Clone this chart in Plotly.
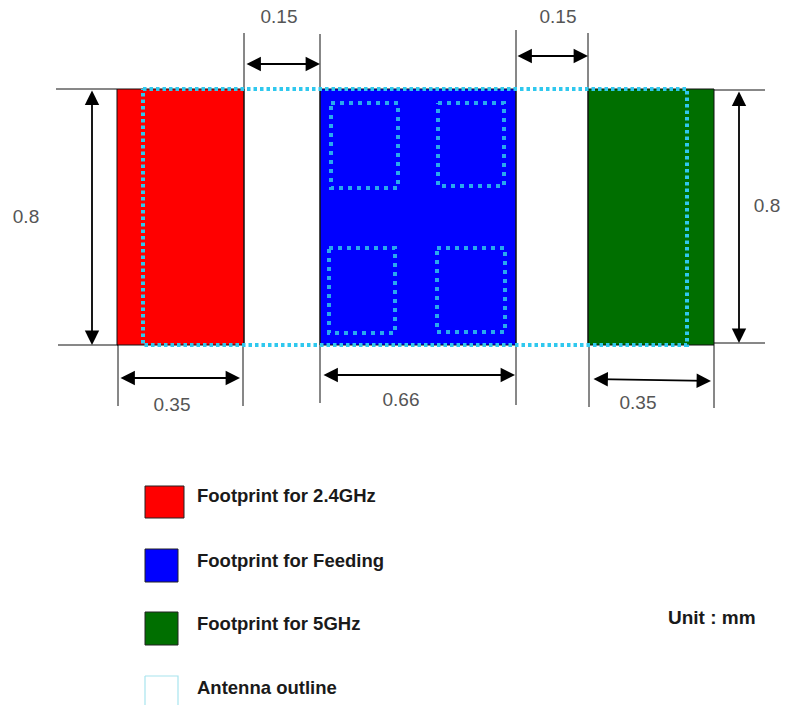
import plotly.graph_objects as go

# Footprint blocks: name, x edges, y edges
block_names = ["Footprint for 2.4GHz", "Footprint for Feeding", "Footprint for 5GHz"]
block_left = [117, 320, 588]
block_right = [244, 516, 714]
block_top = 89
block_bottom = 345
block_colors = ["#ff0000", "#0000ff", "#006f00"]

# Antenna outline and inner pads
outline_x = [143, 687]
outline_y = [89, 345]
pad_left = [331, 438, 329, 437]
pad_right = [398, 504, 395, 505]
pad_top = [103, 103, 248, 248]
pad_bottom = [188, 186, 333, 332]

# Extension lines (x0, y0, x1, y1)
ext_lines = [
    (56, 89, 117, 89), (58, 345, 118, 345),
    (714, 90, 765, 90), (714, 343, 765, 343),
    (244, 33, 244, 345), (320, 34, 320, 345),
    (516, 30, 516, 345), (588, 33, 588, 345),
    (118, 345, 118, 406), (243, 345, 243, 406),
    (320, 345, 320, 403), (516, 345, 516, 405),
    (589, 345, 589, 407), (714, 345, 714, 408),
]

# Dimension arrows (x0, y0, x1, y1)
dim_arrows = [
    (245, 64, 320, 64), (516, 56, 588, 56),
    (92, 89, 92, 345), (739, 90, 739, 343),
    (119, 378, 240, 378), (322, 375, 515, 375),
    (592, 379, 711, 381),
]

# Dimension labels
dim_text = ["0.15", "0.15", "0.8", "0.8", "0.35", "0.66", "0.35"]
dim_x = [279, 558, 26, 767, 172, 401, 638]
dim_y = [18, 18, 218, 207, 406, 401, 404]

# Legend
legend_labels = block_names + ["Antenna outline"]
legend_left = [145, 145, 145, 145]
legend_right = [184, 178, 178, 178]
legend_top = [486, 549, 612, 676]
legend_bottom = [518, 582, 645, 712]
legend_text_y = [497, 562, 625, 689]
unit_text = "Unit : mm"

CYAN = "#2fc8ee"
INK = "#111111"

fig = go.Figure()


def box(x0, x1, y0, y1):
    return [x0, x1, x1, x0, x0], [y0, y0, y1, y1, y0]


for l, r, c in zip(block_left, block_right, block_colors):
    xs, ys = box(l, r, block_top, block_bottom)
    fig.add_trace(go.Scatter(x=xs, y=ys, mode="lines", fill="toself", fillcolor=c,
                             line=dict(color=INK, width=1)))

for x0, y0, x1, y1 in ext_lines:
    fig.add_trace(go.Scatter(x=[x0, x1], y=[y0, y1], mode="lines",
                             line=dict(color=INK, width=1)))

xs, ys = box(outline_x[0], outline_x[1], outline_y[0], outline_y[1])
fig.add_trace(go.Scatter(x=xs, y=ys, mode="lines",
                         line=dict(color=CYAN, width=4, dash="3.5px,3px")))

for l, r, t, b in zip(pad_left, pad_right, pad_top, pad_bottom):
    xs, ys = box(l, r, t, b)
    fig.add_trace(go.Scatter(x=xs, y=ys, mode="lines",
                             line=dict(color="#29a9ee", width=4, dash="4px,5px")))

for i, (l, r, t, b) in enumerate(zip(legend_left, legend_right, legend_top, legend_bottom)):
    xs, ys = box(l, r, t, b)
    if i < 3:
        fig.add_trace(go.Scatter(x=xs, y=ys, mode="lines", fill="toself",
                                 fillcolor=block_colors[i], line=dict(color="#222222", width=1)))
    else:
        fig.add_trace(go.Scatter(x=xs, y=ys, mode="lines",
                                 line=dict(color="#a8e4ee", width=1.2)))

fig.add_trace(go.Scatter(x=dim_x, y=dim_y, mode="text", text=dim_text, textposition="middle center",
                         textfont=dict(family="Liberation Sans", size=19, color="#555555")))
fig.add_trace(go.Scatter(x=[197] * 4, y=legend_text_y, mode="text", text=[f"<b>{s}</b>" for s in legend_labels],
                         textposition="middle right",
                         textfont=dict(family="Liberation Sans", size=18.5, color="#1a1a1a")))
fig.add_trace(go.Scatter(x=[668], y=[619], mode="text", text=[f"<b>{unit_text}</b>"],
                         textposition="middle right",
                         textfont=dict(family="Liberation Sans", size=19, color="#1a1a1a")))

for x0, y0, x1, y1 in dim_arrows:
    fig.add_annotation(x=x1, y=y1, ax=x0, ay=y0, xref="x", yref="y", axref="x", ayref="y", text="",
                       showarrow=True, arrowhead=2, arrowside="end+start", arrowsize=1.6, arrowwidth=1.8,
                       arrowcolor="#000000", standoff=0, startstandoff=0)

fig.update_layout(
    width=787, height=705, margin=dict(l=0, r=0, t=0, b=0), showlegend=False,
    paper_bgcolor="white", plot_bgcolor="white", hovermode=False,
    xaxis=dict(range=[0, 787], visible=False, fixedrange=True),
    yaxis=dict(range=[705, 0], visible=False, fixedrange=True),
)
fig.write_html("out.html", config=dict(displayModeBar=False),
               post_script="document.body.style.margin='0';")
